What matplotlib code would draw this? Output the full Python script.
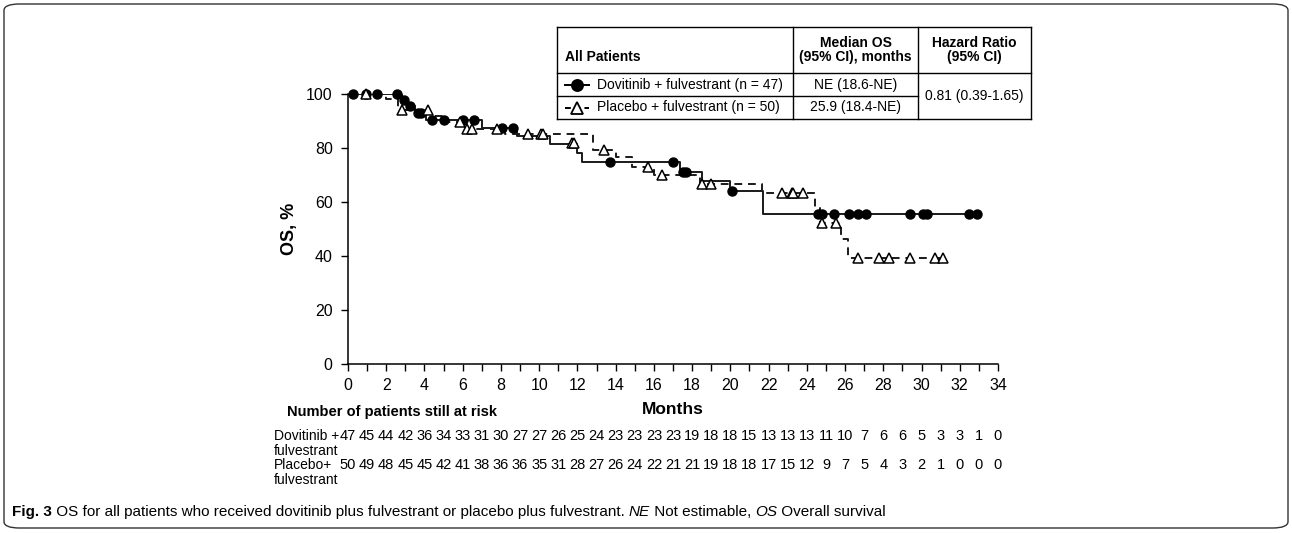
import matplotlib
matplotlib.use("Agg")
import matplotlib.pyplot as plt
from matplotlib.patches import FancyBboxPatch
from matplotlib.lines import Line2D
import matplotlib.transforms as mtransforms

plt.rcParams['font.family'] = ['Liberation Sans', 'DejaVu Sans']

W, H = 1292, 533

# Kaplan-Meier steps (months, OS %)
dov_t = [0, 2.8, 3.1, 3.5, 4.1, 7.0, 8.84, 10.56, 11.98, 12.24, 17.36, 18.5, 20.0, 21.7, 32.9]
dov_s = [100, 97.8, 95.5, 93.1, 90.4, 87.4, 84.4, 81.5, 78.1, 74.8, 71.1, 67.8, 64.1, 55.6, 55.6]
pla_t = [0, 2.0, 2.6, 4.3, 5.0, 6.1, 8.2, 12.8, 14.0, 14.85, 16.0, 18.4, 21.65, 24.45, 24.7, 25.8, 26.15, 31.1]
pla_s = [100, 98, 94, 92, 89.5, 87, 85, 79.2, 76.7, 73, 70, 66.8, 63.3, 57.8, 52.2, 46.3, 39.3, 39.3]

# censor marks
dov_ct = [0.27, 0.94, 1.5, 2.56, 2.93, 3.24, 3.66, 3.8, 4.4, 5.02, 6.0, 6.6, 8.05, 8.63, 13.7, 17.0,
          17.5, 17.7, 20.1, 24.6, 24.8, 25.4, 26.2, 26.7, 27.1, 29.4, 30.1, 30.3, 32.5, 32.9]
dov_cs = [100, 100, 100, 100, 97.8, 95.5, 93.1, 93.1, 90.4, 90.4, 90.4, 90.4, 87.4, 87.4, 74.8, 74.8,
          71.1, 71.1, 64.1, 55.6, 55.6, 55.6, 55.6, 55.6, 55.6, 55.6, 55.6, 55.6, 55.6, 55.6]
pla_ct = [0.94, 2.8, 4.2, 5.86, 6.2, 6.5, 7.8, 9.4, 10.1, 10.2, 11.7, 11.8, 13.4, 15.7, 16.4, 18.5, 19.0,
          22.7, 23.2, 23.3, 23.8, 24.8, 25.5, 26.7, 27.8, 28.3, 29.4, 30.7, 31.1]
pla_cs = [100, 94, 94, 89.5, 87, 87, 87, 85, 85, 85, 82, 82, 79.2, 73, 70, 66.8, 66.8,
          63.3, 63.3, 63.3, 63.3, 52.2, 52.2, 39.3, 39.3, 39.3, 39.3, 39.3, 39.3]

risk_months = list(range(35))
dov_risk = [47, 45, 44, 42, 36, 34, 33, 31, 30, 27, 27, 26, 25, 24, 23, 23, 23, 23, 19, 18, 18, 15,
            13, 13, 13, 11, 10, 7, 6, 6, 5, 3, 3, 1, 0]
pla_risk = [50, 49, 48, 45, 45, 42, 41, 38, 36, 36, 35, 31, 28, 27, 26, 24, 22, 21, 21, 19, 18, 18,
            17, 15, 12, 9, 7, 5, 4, 3, 2, 1, 0, 0, 0]

dov_label = "Dovitinib + fulvestrant (n = 47)"
pla_label = "Placebo + fulvestrant (n = 50)"
dov_median = "NE (18.6-NE)"
pla_median = "25.9 (18.4-NE)"
hazard = "0.81 (0.39-1.65)"


def fx(x):
    return x / W


def fy(y):
    return 1 - y / H


fig = plt.figure(figsize=(W / 100, H / 100), dpi=100)
ax = fig.add_axes([fx(348), fy(364), fx(998) - fx(348), fy(94) - fy(364)])

ax.step(dov_t, dov_s, where='post', color='#1a1a1a', lw=1.4)
ax.step(pla_t, pla_s, where='post', color='#1a1a1a', lw=1.4, linestyle=(0, (4, 3)))
ax.plot(dov_ct, dov_cs, 'o', color='black', ms=6.5, clip_on=False, zorder=4)
ax.plot(pla_ct, pla_cs, '^', mfc='white', mec='black', mew=1.1, ms=6.5, linestyle='none',
        clip_on=False, zorder=5)

ax.set_xlim(0, 34)
ax.set_ylim(0, 100)
ax.set_xticks(range(0, 35, 2))
ax.set_xticks(range(1, 35, 2), minor=True)
ax.set_yticks(range(0, 101, 20))
ax.tick_params(which='both', direction='out', length=5, width=1, labelsize=11.5, pad=6)
ax.tick_params(axis='x', pad=5)
for s in ['top', 'right']:
    ax.spines[s].set_visible(False)
for s in ['left', 'bottom']:
    ax.spines[s].set_linewidth(1.1)
ax.set_ylabel("OS, %", fontsize=13, fontweight='bold', labelpad=6)

fig.text(fx(673), fy(409), "Months", ha='center', va='center', fontsize=12.5, fontweight='bold')
fig.text(fx(287), fy(412), "Number of patients still at risk", ha='left', va='center',
         fontsize=10.5, fontweight='bold')

# risk table
row1, row2 = 436, 465
tr = mtransforms.blended_transform_factory(ax.transData, fig.transFigure)
for m, n in zip(risk_months, dov_risk):
    ax.text(m, fy(row1), str(n), transform=tr, ha='center', va='center', fontsize=10.5)
for m, n in zip(risk_months, pla_risk):
    ax.text(m, fy(row2), str(n), transform=tr, ha='center', va='center', fontsize=10.5)
fig.text(fx(274), fy(row1), "Dovitinib +", ha='left', va='center', fontsize=10)
fig.text(fx(274), fy(row1 + 15), "fulvestrant", ha='left', va='center', fontsize=10)
fig.text(fx(274), fy(row2), "Placebo+", ha='left', va='center', fontsize=10)
fig.text(fx(274), fy(row2 + 15), "fulvestrant", ha='left', va='center', fontsize=10)

# legend table
tx0, tx1, tx2, tx3 = 557, 793, 918, 1031
ty0, ty1, ty2, ty3 = 27, 73, 96, 119


def hline(x0, x1, y):
    fig.add_artist(Line2D([fx(x0), fx(x1)], [fy(y), fy(y)], color='black', lw=1))


def vline(x, y0, y1):
    fig.add_artist(Line2D([fx(x), fx(x)], [fy(y0), fy(y1)], color='black', lw=1))


hline(tx0, tx3, ty0)
hline(tx0, tx3, ty1)
hline(tx0, tx2, ty2)
hline(tx0, tx3, ty3)
for x in [tx0, tx1, tx2, tx3]:
    vline(x, ty0, ty3)

fig.text(fx(565), fy(57), "All Patients", ha='left', va='center', fontsize=10, fontweight='bold')
fig.text(fx((tx1 + tx2) / 2), fy(50), "Median OS\n(95% CI), months", ha='center', va='center',
         fontsize=10, fontweight='bold', linespacing=1.05)
fig.text(fx((tx2 + tx3) / 2), fy(50), "Hazard Ratio\n(95% CI)", ha='center', va='center',
         fontsize=10, fontweight='bold', linespacing=1.05)

for yrow, lab, med, mk, ls, mfc in [(84.5, dov_label, dov_median, 'o', '-', 'black'),
                                    (107.5, pla_label, pla_median, '^', (0, (3, 2)), 'white')]:
    fig.add_artist(Line2D([fx(565), fx(589)], [fy(yrow), fy(yrow)], color='black', lw=1.4,
                          linestyle=ls))
    fig.add_artist(Line2D([fx(577)], [fy(yrow)], marker=mk, ms=8, mfc=mfc, mec='black',
                          mew=1.3, linestyle='none'))
    fig.text(fx(597), fy(yrow), lab, ha='left', va='center', fontsize=10)
    fig.text(fx((tx1 + tx2) / 2), fy(yrow), med, ha='center', va='center', fontsize=10)
fig.text(fx((tx2 + tx3) / 2), fy(96), hazard, ha='center', va='center', fontsize=10)

# outer frame
frame = FancyBboxPatch((fx(4), fy(528)), fx(1284), fy(4) - fy(528),
                       boxstyle="round,pad=0,rounding_size=0.012", transform=fig.transFigure,
                       fill=False, ec='#333333', lw=1.0)
fig.add_artist(frame)

# caption
pieces = [("Fig. 3", 'bold', 'normal'),
          (" OS for all patients who received dovitinib plus fulvestrant or placebo plus fulvestrant. ",
           'normal', 'normal'),
          ("NE", 'normal', 'italic'), (" Not estimable, ", 'normal', 'normal'),
          ("OS", 'normal', 'italic'), (" Overall survival", 'normal', 'normal')]
renderer = fig.canvas.get_renderer()
xpos = 12
for txt, wgt, sty in pieces:
    t = fig.text(fx(xpos), fy(512), txt, ha='left', va='center', fontsize=11,
                 fontweight=wgt, fontstyle=sty)
    xpos += t.get_window_extent(renderer).width

fig.savefig("out.png", dpi=100)
